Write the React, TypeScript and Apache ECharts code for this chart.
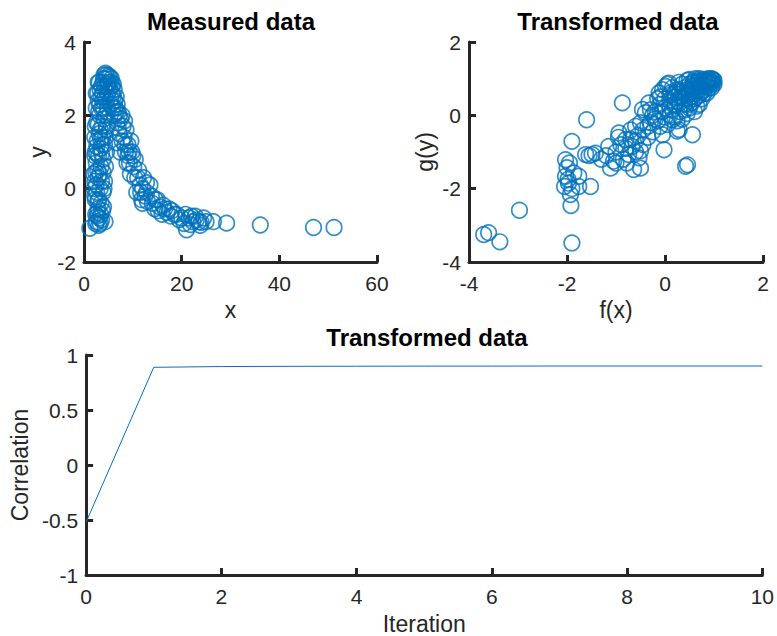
import React, { useEffect, useRef } from "react";
import * as echarts from "echarts";

const measured: number[][] = [
  [1.2, -1.08], [2.6, -0.9], [2.8, -0.65], [3.1, -0.8], [3.4, -0.7], [3.0, -1.0], [2.9, -0.55], [3.6, -0.85],
  [2.7, -0.75], [3.3, -0.95], [3.8, -0.6], [2.4, -0.7],
  [2.2, -0.2], [2.5, 0.1], [2.9, 0.3], [3.3, 0.0], [2.4, 0.45], [3.6, 0.2], [2.0, 0.4], [2.8, -0.35], [3.9, -0.1], [2.1, 0.0],
  [2.5, 0.7], [3.0, 0.9], [3.4, 1.1], [2.7, 1.3], [3.8, 1.4], [3.1, 1.5], [2.3, 1.0], [3.9, 0.8], [4.2, 1.2], [2.6, 1.15],
  [3.5, 0.6], [2.2, 1.4],
  [2.6, 1.8], [3.2, 2.0], [3.7, 1.7], [4.0, 2.2], [2.9, 2.4], [3.5, 2.5], [4.4, 2.0], [4.1, 1.9], [3.0, 2.1], [2.5, 2.2],
  [3.3, 1.6], [4.6, 2.4], [2.8, 2.6],
  [3.3, 2.7], [3.9, 2.9], [4.5, 3.0], [5.0, 3.08], [4.2, 2.8], [5.5, 2.9], [4.8, 2.6], [3.6, 2.8], [5.2, 2.7], [5.8, 2.6],
  [6.0, 2.5], [4.6, 3.1], [5.3, 3.05], [4.0, 3.0], [5.7, 2.8], [6.3, 2.4], [4.9, 2.85], [3.8, 2.6], [6.4, 2.2], [5.5, 2.45],
  [2.3, -0.3], [4.0, -0.5], [4.2, 0.2], [2.4, -0.95], [3.5, -0.4], [4.3, -0.9], [2.2, 0.9], [4.4, 0.6], [4.5, 1.6],
  [2.3, 1.7], [4.6, 1.0], [3.7, 1.2], [2.8, 0.5], [3.2, 0.4], [4.1, 0.0], [2.6, -0.1], [3.0, -0.3], [3.9, 0.45],
  [2.7, 0.95], [3.6, 2.2], [2.5, 2.6], [4.8, 2.2], [4.3, 2.5], [3.1, 2.9], [2.9, 2.9], [4.7, 2.8], [4.1, 3.1],
  [4.4, 3.15], [5.0, 2.9], [5.6, 3.0], [6.2, 2.7], [6.6, 2.5], [6.0, 2.85], [6.8, 2.3], [7.0, 2.1], [5.5, 2.3],
  [4.6, 1.7], [3.4, 1.35], [2.9, 1.75], [3.6, 0.95], [4.4, 1.4], [2.2, 0.2], [3.9, 2.4], [3.2, 2.3],
  [6.2, 2.0], [6.6, 2.1], [5.9, 2.2], [6.8, 1.8], [7.5, 1.9], [8.0, 1.7], [7.2, 1.5], [6.6, 1.25], [7.8, 1.3], [7.0, 1.65],
  [8.3, 1.85], [8.5, 1.0], [9.0, 0.9], [9.8, 1.0], [8.8, 0.7], [7.4, 1.0], [10.2, 0.6], [10.5, 0.8], [9.5, 0.4], [9.3, 0.7],
  [7.2, 2.0], [7.8, 2.0], [8.6, 1.6], [8.2, 1.4], [9.0, 1.2], [9.6, 1.3], [10.0, 0.9], [9.2, 1.0], [8.4, 1.2],
  [11.0, 0.3], [11.5, 0.1], [10.8, -0.1], [12.0, 0.0], [12.5, -0.2], [13.5, 0.1], [13.0, -0.35], [12.8, 0.16], [11.8, -0.3],
  [10.4, 0.3], [11.2, 0.5], [11.6, -0.1], [12.2, 0.3], [12.8, -0.1], [13.8, -0.2], [12.0, -0.4], [14.6, -0.3],
  [14.0, -0.4], [14.5, -0.55], [15.5, -0.5], [15.0, -0.3], [16.0, -0.7], [16.5, -0.55], [17.0, -0.65], [17.8, -0.75],
  [15.2, -0.6], [16.2, -0.45], [17.4, -0.55], [18.0, -0.6], [19.0, -0.7], [20.0, -0.8], [20.8, -0.7],
  [18.5, -0.7], [19.5, -0.85], [20.5, -0.95], [21.0, -1.12], [21.5, -0.8], [22.3, -0.9], [23.0, -0.85], [23.8, -1.0],
  [24.5, -0.8], [25.0, -0.9], [22.0, -0.75], [24.0, -0.92], [22.8, -0.75], [23.5, -0.9], [21.8, -0.98],
  [26.5, -0.9], [29.2, -0.94], [36.1, -0.99], [47.0, -1.06], [51.2, -1.06],
];

const transformed: number[][] = [
  [-3.7, -3.25], [-3.6, -3.2], [-3.37, -3.45], [-2.97, -2.59], [-1.9, -3.48], [-1.92, -2.46], [-1.93, -2.16],
  [-2.03, -1.21], [-2.0, -1.43], [-2.03, -1.66], [-1.97, -1.85], [-2.05, -1.94], [-1.86, -1.57], [-1.76, -1.66],
  [-1.76, -1.94], [-1.95, -1.3], [-1.98, -1.75], [-1.9, -2.0],
  [-1.9, -0.71], [-1.6, -0.12], [-1.52, -1.94], [-1.62, -1.07], [-1.49, -1.07], [-1.42, -1.03], [-1.55, -1.1],
  [-1.15, -0.85], [-1.11, -1.44], [-0.87, 0.34], [-0.94, -0.48], [-0.8, -0.66], [-0.67, -0.85], [-0.74, -1.07],
  [-0.53, -1.16], [-0.64, -1.48], [-0.5, -1.44], [-0.5, -0.97], [-1.2, -1.1], [-1.0, -1.0], [-0.9, -0.8], [-0.6, -0.7],
  [-0.7, -0.4], [-0.55, -0.55], [-0.85, -1.2], [-0.45, -0.8], [-1.05, -1.25],
  [-0.5, -0.2], [-0.7, -0.65], [-0.8, -0.9], [-0.35, -0.6], [-0.6, -1.0], [-1.3, -1.2], [-0.95, -0.6], [-1.0, -1.3],
  [-0.78, -1.3],
  [-0.4, 0.07], [-0.46, 0.16], [-0.33, 0.34], [-0.02, -0.94], [-0.05, -0.53], [0.29, -0.39], [0.56, -0.53],
  [0.46, -1.35], [0.42, -1.39], [-0.12, 0.61], [0.08, 0.88], [0.15, -0.12], [0.01, 0.79], [0.25, -0.43],
  [-0.3, -0.2], [-0.2, 0.1], [-0.1, -0.3], [0.0, 0.2], [0.1, 0.0], [0.2, 0.3], [0.3, 0.1], [0.35, 0.5], [0.25, -0.15],
  [0.4, 0.3], [0.45, 0.6], [0.5, 0.2], [0.55, 0.7], [0.6, 0.45], [0.65, 0.8], [0.7, 0.55], [0.75, 0.9], [0.8, 0.7],
  [0.85, 0.95], [0.9, 0.85], [0.95, 0.97], [1.0, 0.95], [0.88, 1.0], [0.78, 0.98], [0.68, 0.95], [0.58, 0.92],
  [0.5, 0.85], [0.62, 1.0], [0.72, 0.82], [0.82, 0.9], [0.92, 0.92], [0.98, 0.88], [0.4, 0.75], [0.3, 0.65],
  [0.2, 0.5], [0.1, 0.4], [-0.1, 0.3], [-0.2, -0.1], [0.05, -0.25], [0.35, -0.1], [0.6, 0.1], [0.7, 0.3], [0.5, 0.4],
  [0.3, 0.35], [-0.15, 0.45], [0.15, 0.15], [0.0, -0.05], [-0.25, 0.0], [0.45, 0.05], [0.8, 0.6], [0.65, 0.65],
  [0.95, 1.0], [0.85, 0.8], [0.55, 0.5], [0.25, 0.7], [0.45, 0.95], [0.7, 1.0], [0.9, 0.98],
  [0.6, 0.9], [0.7, 0.92], [0.8, 0.95], [0.9, 0.95], [0.75, 0.85], [0.85, 0.88], [0.95, 0.9], [0.65, 0.88],
  [0.55, 0.8], [0.45, 0.7], [0.35, 0.6], [0.2, 0.6], [0.1, 0.55], [0.0, 0.45], [-0.1, 0.5], [0.15, 0.75],
  [0.35, 0.85], [0.5, 0.65], [0.6, 0.6], [0.7, 0.7], [0.8, 0.8], [0.9, 0.75], [0.75, 0.65], [0.65, 0.5],
  [0.55, 0.35], [0.4, 0.45], [0.25, 0.4], [0.1, 0.25], [-0.05, 0.1], [-0.15, -0.15], [-0.3, 0.15], [-0.35, -0.3],
  [-0.45, -0.4], [-0.6, -0.3], [-0.25, -0.45], [0.2, -0.05], [0.4, 0.15], [0.5, 0.3], [0.65, 0.25], [0.75, 0.45],
  [0.85, 0.6], [0.95, 0.75], [1.0, 0.85], [0.98, 0.98], [0.88, 0.9], [0.72, 0.78], [0.58, 0.72], [0.42, 0.55],
  [0.3, 0.48], [0.12, 0.62], [-0.05, 0.7], [0.05, 0.85], [0.28, 0.9], [0.5, 0.98],
];

const iterations: number[] = [0, 1, 2, 3, 4, 5, 6, 7, 8, 9, 10];
const correlation: number[] = [-0.52, 0.888, 0.895, 0.897, 0.898, 0.899, 0.899, 0.9, 0.9, 0.9, 0.9];

const FONT = '"Liberation Sans", Arial, Helvetica, sans-serif';
const AX = "#262626";
const BLUE = "#0072BD";

function axis(grid: number, type: "x" | "y", min: number, max: number, interval: number, name: string, nameGap: number) {
  return {
    type: "value",
    gridIndex: grid,
    min,
    max,
    interval,
    name,
    nameLocation: "middle",
    nameGap,
    nameTextStyle: { fontFamily: FONT, fontSize: 23, color: AX },
    axisLine: { show: true, onZero: false, lineStyle: { color: AX, width: 3 } },
    axisTick: { show: true, inside: true, length: 7, lineStyle: { color: AX, width: 3 } },
    axisLabel: { fontFamily: FONT, fontSize: 21, color: AX, margin: type === "x" ? 11 : 8 },
    splitLine: { show: false },
  };
}

export default function App() {
  const ref = useRef<HTMLDivElement>(null);
  useEffect(() => {
    if (!ref.current) return;
    const chart = echarts.init(ref.current, null, { renderer: "svg" });
    const titleStyle = { fontFamily: FONT, fontSize: 24, fontWeight: "bold", color: "#000" };
    chart.setOption({
      animation: false,
      backgroundColor: "#fff",
      title: [
        { text: "Measured data", left: 226, top: 4, textAlign: "center", textStyle: titleStyle },
        { text: "Transformed data", left: 613, top: 4, textAlign: "center", textStyle: titleStyle },
        { text: "Transformed data", left: 422, top: 320, textAlign: "center", textStyle: titleStyle },
      ],
      grid: [
        { left: 84, top: 42, width: 293, height: 220 },
        { left: 469, top: 42, width: 294, height: 220 },
        { left: 84, top: 355, width: 679, height: 223 },
      ],
      xAxis: [
        axis(0, "x", 0, 60, 20, "x", 36),
        axis(1, "x", -4, 2, 2, "f(x)", 36),
        axis(2, "x", 0, 10, 2, "Iteration", 37),
      ],
      yAxis: [
        axis(0, "y", -2, 4, 2, "y", 35),
        axis(1, "y", -4, 2, 2, "g(y)", 33),
        axis(2, "y", -1, 1, 0.5, "Correlation", 55),
      ],
      series: [
        {
          type: "scatter",
          xAxisIndex: 0,
          yAxisIndex: 0,
          data: measured,
          symbol: "circle",
          symbolSize: 15.5,
          clip: false,
          itemStyle: { color: "transparent", borderColor: BLUE, borderWidth: 1.7 },
        },
        {
          type: "scatter",
          xAxisIndex: 1,
          yAxisIndex: 1,
          data: transformed,
          symbol: "circle",
          symbolSize: 15.5,
          clip: false,
          itemStyle: { color: "transparent", borderColor: BLUE, borderWidth: 1.7 },
        },
        {
          type: "line",
          xAxisIndex: 2,
          yAxisIndex: 2,
          data: iterations.map((it, i) => [it, correlation[i]]),
          showSymbol: false,
          symbol: "none",
          lineStyle: { color: BLUE, width: 1 },
        },
      ],
    });
    return () => chart.dispose();
  }, []);
  return (
    <div
      ref={ref}
      style={{ position: "absolute", left: 0, top: 0, width: 777, height: 636, background: "#fff" }}
    />
  );
}
